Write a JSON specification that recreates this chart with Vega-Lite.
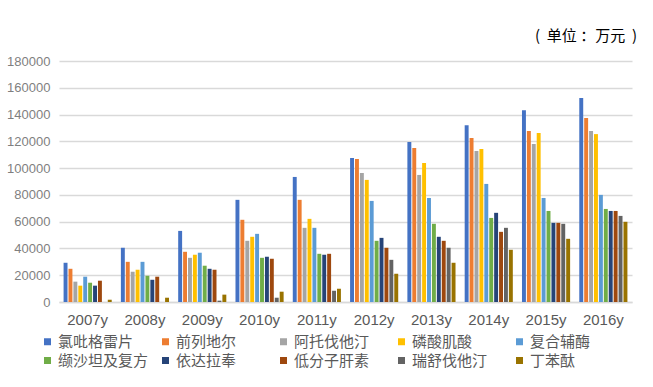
{
"$schema": "https://vega.github.io/schema/vega-lite/v6.json",
"autosize": {"type": "none"},
"width": 573,
"height": 241,
"padding": {"left": 59, "top": 61, "right": 21, "bottom": 85},
"background": "white",
"config": {"font": "Noto Sans CJK SC", "view": {"stroke": null}},
"title": {"text": "(\u00a0\u00a0单位\u00a0：万元\u00a0\u00a0)", "anchor": "end", "fontSize": 15, "fontWeight": "normal", "color": "#000000", "offset": 11, "dx": 5, "font": "Noto Sans CJK SC"},
"data": {"values": [
{"year":"2007y","drug":"氯吡格雷片","value":29300},{"year":"2007y","drug":"前列地尔","value":24800},{"year":"2007y","drug":"阿托伐他汀","value":15200},{"year":"2007y","drug":"磷酸肌酸","value":12200},{"year":"2007y","drug":"复合辅酶","value":18900},{"year":"2007y","drug":"缬沙坦及复方","value":14400},{"year":"2007y","drug":"依达拉奉","value":12200},{"year":"2007y","drug":"低分子肝素","value":15900},{"year":"2007y","drug":"瑞舒伐他汀","value":0},{"year":"2007y","drug":"丁苯酞","value":1700},
{"year":"2008y","drug":"氯吡格雷片","value":40500},{"year":"2008y","drug":"前列地尔","value":30000},{"year":"2008y","drug":"阿托伐他汀","value":22600},{"year":"2008y","drug":"磷酸肌酸","value":24100},{"year":"2008y","drug":"复合辅酶","value":30000},{"year":"2008y","drug":"缬沙坦及复方","value":19600},{"year":"2008y","drug":"依达拉奉","value":16600},{"year":"2008y","drug":"低分子肝素","value":18900},{"year":"2008y","drug":"瑞舒伐他汀","value":0},{"year":"2008y","drug":"丁苯酞","value":3200},
{"year":"2009y","drug":"氯吡格雷片","value":53100},{"year":"2009y","drug":"前列地尔","value":37500},{"year":"2009y","drug":"阿托伐他汀","value":33000},{"year":"2009y","drug":"磷酸肌酸","value":35300},{"year":"2009y","drug":"复合辅酶","value":36800},{"year":"2009y","drug":"缬沙坦及复方","value":27100},{"year":"2009y","drug":"依达拉奉","value":24800},{"year":"2009y","drug":"低分子肝素","value":24100},{"year":"2009y","drug":"瑞舒伐他汀","value":1000},{"year":"2009y","drug":"丁苯酞","value":5500},
{"year":"2010y","drug":"氯吡格雷片","value":76300},{"year":"2010y","drug":"前列地尔","value":61400},{"year":"2010y","drug":"阿托伐他汀","value":45700},{"year":"2010y","drug":"磷酸肌酸","value":48700},{"year":"2010y","drug":"复合辅酶","value":50900},{"year":"2010y","drug":"缬沙坦及复方","value":33000},{"year":"2010y","drug":"依达拉奉","value":33800},{"year":"2010y","drug":"低分子肝素","value":32300},{"year":"2010y","drug":"瑞舒伐他汀","value":3200},{"year":"2010y","drug":"丁苯酞","value":7700},
{"year":"2011y","drug":"氯吡格雷片","value":93400},{"year":"2011y","drug":"前列地尔","value":76300},{"year":"2011y","drug":"阿托伐他汀","value":55400},{"year":"2011y","drug":"磷酸肌酸","value":62100},{"year":"2011y","drug":"复合辅酶","value":55400},{"year":"2011y","drug":"缬沙坦及复方","value":36000},{"year":"2011y","drug":"依达拉奉","value":35300},{"year":"2011y","drug":"低分子肝素","value":36000},{"year":"2011y","drug":"瑞舒伐他汀","value":8400},{"year":"2011y","drug":"丁苯酞","value":9900},
{"year":"2012y","drug":"氯吡格雷片","value":107600},{"year":"2012y","drug":"前列地尔","value":106800},{"year":"2012y","drug":"阿托伐他汀","value":96400},{"year":"2012y","drug":"磷酸肌酸","value":91200},{"year":"2012y","drug":"复合辅酶","value":75500},{"year":"2012y","drug":"缬沙坦及复方","value":45700},{"year":"2012y","drug":"依达拉奉","value":47900},{"year":"2012y","drug":"低分子肝素","value":40500},{"year":"2012y","drug":"瑞舒伐他汀","value":31500},{"year":"2012y","drug":"丁苯酞","value":21100},
{"year":"2013y","drug":"氯吡格雷片","value":119500},{"year":"2013y","drug":"前列地尔","value":115000},{"year":"2013y","drug":"阿托伐他汀","value":94900},{"year":"2013y","drug":"磷酸肌酸","value":103800},{"year":"2013y","drug":"复合辅酶","value":77700},{"year":"2013y","drug":"缬沙坦及复方","value":58400},{"year":"2013y","drug":"依达拉奉","value":48700},{"year":"2013y","drug":"低分子肝素","value":45700},{"year":"2013y","drug":"瑞舒伐他汀","value":40500},{"year":"2013y","drug":"丁苯酞","value":29300},
{"year":"2014y","drug":"氯吡格雷片","value":132100},{"year":"2014y","drug":"前列地尔","value":122400},{"year":"2014y","drug":"阿托伐他汀","value":112800},{"year":"2014y","drug":"磷酸肌酸","value":114300},{"year":"2014y","drug":"复合辅酶","value":88200},{"year":"2014y","drug":"缬沙坦及复方","value":62800},{"year":"2014y","drug":"依达拉奉","value":66600},{"year":"2014y","drug":"低分子肝素","value":52400},{"year":"2014y","drug":"瑞舒伐他汀","value":55400},{"year":"2014y","drug":"丁苯酞","value":39000},
{"year":"2015y","drug":"氯吡格雷片","value":143300},{"year":"2015y","drug":"前列地尔","value":127700},{"year":"2015y","drug":"阿托伐他汀","value":118000},{"year":"2015y","drug":"磷酸肌酸","value":126200},{"year":"2015y","drug":"复合辅酶","value":77700},{"year":"2015y","drug":"缬沙坦及复方","value":68000},{"year":"2015y","drug":"依达拉奉","value":59100},{"year":"2015y","drug":"低分子肝素","value":59100},{"year":"2015y","drug":"瑞舒伐他汀","value":58400},{"year":"2015y","drug":"丁苯酞","value":47200},
{"year":"2016y","drug":"氯吡格雷片","value":152300},{"year":"2016y","drug":"前列地尔","value":137400},{"year":"2016y","drug":"阿托伐他汀","value":127700},{"year":"2016y","drug":"磷酸肌酸","value":125400},{"year":"2016y","drug":"复合辅酶","value":80000},{"year":"2016y","drug":"缬沙坦及复方","value":69500},{"year":"2016y","drug":"依达拉奉","value":68000},{"year":"2016y","drug":"低分子肝素","value":68000},{"year":"2016y","drug":"瑞舒伐他汀","value":64300},{"year":"2016y","drug":"丁苯酞","value":59900}
]},
"mark": {"type": "bar"},
"encoding": {
"x": {"field": "year", "type": "nominal", "sort": null,
 "scale": {"paddingInner": 0.16, "paddingOuter": 0.08},
 "axis": {"title": null, "labelAngle": 0, "ticks": false, "domainColor": "#d9d9d9", "domainWidth": 1.5, "labelFontSize": 15, "labelColor": "#595959", "labelPadding": 10, "labelFont": "Liberation Sans"}},
"xOffset": {"field": "drug", "type": "nominal", "sort": ["氯吡格雷片","前列地尔","阿托伐他汀","磷酸肌酸","复合辅酶","缬沙坦及复方","依达拉奉","低分子肝素","瑞舒伐他汀","丁苯酞"], "scale": {"paddingInner": 0.2}},
"y": {"field": "value", "type": "quantitative",
 "scale": {"domain": [0, 180000]},
 "axis": {"title": null, "values": [0,20000,40000,60000,80000,100000,120000,140000,160000,180000], "labelOverlap": false, "domain": false, "ticks": false, "gridColor": "#d9d9d9", "gridWidth": 1.5, "labelFontSize": 13, "labelColor": "#7f7f7f", "labelPadding": 9, "labelFont": "Liberation Sans", "format": "d"}},
"color": {"field": "drug", "type": "nominal",
 "scale": {"domain": ["氯吡格雷片","前列地尔","阿托伐他汀","磷酸肌酸","复合辅酶","缬沙坦及复方","依达拉奉","低分子肝素","瑞舒伐他汀","丁苯酞"],
  "range": ["#4472C4","#ED7D31","#A5A5A5","#FFC000","#5B9BD5","#70AD47","#264478","#9E480E","#636363","#997300"]},
 "legend": {"title": null, "orient": "none", "legendX": -19, "legendY": 273, "direction": "horizontal", "columns": 5, "gridAlign": "all", "columnPadding": 9, "rowPadding": 3, "symbolType": "square", "symbolSize": 49, "symbolStrokeWidth": 0, "labelFontSize": 15, "labelColor": "#595959", "labelOffset": 3, "labelLimit": 200, "labelFont": "Noto Sans CJK SC"}}
}
}
